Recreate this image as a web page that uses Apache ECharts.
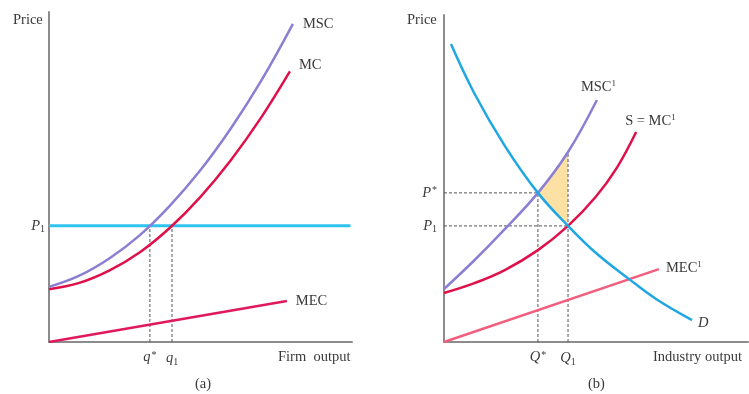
<!DOCTYPE html>
<html><head><meta charset="utf-8">
<script src="https://cdn.jsdelivr.net/npm/echarts@6/dist/echarts.min.js"></script>
<style>html,body{margin:0;padding:0;background:#fff}#c{width:749px;height:394px}</style>
</head><body><div id="c"></div>
<script>
// Panel (a): firm
const mscA = [[0,1.67],[1,2.01],[2,2.54],[3,3.24],[4,4.14],[5,5.21],[6,6.47],[7,7.91],[8.05,9.64]];
const mcA  = [[0,1.6],[1,1.79],[2,2.17],[3,2.72],[4,3.47],[5,4.40],[6,5.51],[7,6.80],[7.95,8.20]];
const mecA = [[0,0],[7.85,1.24]];
const priceA = 3.52;     // P1
const qStar = 3.33, q1 = 4.06;
const priceLineEndA = 9.95;

// Panel (b): industry
const demandB = [[0.23,9.11],[1,7.6],[2,6.0],[3.09,4.56],[4.08,3.55],[5,2.72],[6.12,1.9],[7,1.3],[8.16,0.67]];
const mscB = [[0,1.62],[1,2.5],[2,3.45],[3.09,4.56],[4.08,5.81],[5.03,7.40]];
const mcB  = [[0,1.5],[1,1.8],[2,2.2],[3.09,2.81],[4.08,3.55],[5,4.45],[5.7,5.35],[6.32,6.42]];
const mecB = [[0,0],[7.07,2.23]];
const pStar = 4.56, p1B = 3.55;
const QStar = 3.09, Q1 = 4.08, mscAtQ1 = 5.81;
const lossTriangle = [[3.09,4.56],[3.6,5.15],[4.08,5.81],[4.08,3.55],[3.6,4.03]];

const FONT = '"Liberation Serif", "DejaVu Serif", serif';
const TXT = '#3a3a3a';
const FS = 14.5;
const AX = {color:'#8c8c8c', width:2};
const rich = {
  i:{fontFamily:FONT, fontStyle:'italic', fontSize:FS, color:TXT},
  s:{fontFamily:FONT, fontSize:10, color:TXT, padding:[7,0,0,0]},
  st:{fontFamily:FONT, fontSize:10, color:TXT, padding:[0,0,5,1]},
  sup:{fontFamily:FONT, fontSize:9, color:TXT, padding:[0,0,6,0]},
  n:{fontFamily:FONT, fontSize:FS, color:TXT}
};

function axisX(idx, customs, fmt){
  return {type:'value', gridIndex:idx, min:0, max:10,
    axisLine:{show:true, lineStyle:AX}, axisTick:{show:false}, splitLine:{show:false},
    axisLabel:{customValues:customs, formatter:fmt, margin:8, rich:rich}};
}
function axisY(idx, customs, fmt, margin){
  return {type:'value', gridIndex:idx, min:0, max:10,
    axisLine:{show:true, lineStyle:AX}, axisTick:{show:false}, splitLine:{show:false},
    axisLabel:{customValues:customs, formatter:fmt, margin:margin, rich:rich}};
}
function curve(name, data, color, width, gi, label, offset, smooth){
  return {type:'line', name:name, xAxisIndex:gi, yAxisIndex:gi, data:data, smooth:smooth===undefined?0.4:smooth,
    symbol:'none', lineStyle:{color:color, width:width}, z:5, silent:true,
    endLabel: label ? {show:true, formatter:label, offset:offset, rich:rich, color:TXT, fontFamily:FONT, fontSize:FS} : {show:false}};
}
function dashed(data, gi){
  return {type:'line', xAxisIndex:gi, yAxisIndex:gi, data:data, symbol:'none', silent:true,
    lineStyle:{color:'#555', width:1, type:[3,2]}, z:3};
}

const chart = echarts.init(document.getElementById('c'));
chart.setOption({
  animation:false,
  grid:[{left:49, top:12, width:303, height:330},{left:444, top:15, width:304, height:327}],
  xAxis:[
    axisX(0,[qStar,q1], v => Math.abs(v-qStar)<0.01 ? '{i|q}{st|*}' : '{i|q}{s|1}'),
    axisX(1,[QStar,Q1], v => Math.abs(v-QStar)<0.01 ? '{i|Q}{st|*}' : '{i|Q}{s|1}')
  ],
  yAxis:[
    axisY(0,[priceA], v => '{i|P}{s|1}', 4),
    axisY(1,[pStar,p1B], v => Math.abs(v-pStar)<0.01 ? '{i|P}{st|*}' : '{i|P}{s|1}', 7)
  ],
  series:[
    dashed([[qStar,0],[qStar,priceA]],0),
    dashed([[q1,0],[q1,priceA]],0),
    curve('P1',[[0,priceA],[priceLineEndA,priceA]],'#2fc3f0',3,0,null,null,false),
    curve('MEC',mecA,'#e0195a',2.5,0,'{n|MEC}',[1,0],false),
    curve('MC',mcA,'#e0104a',2.5,0,'{n|MC}',[1,-6]),
    curve('MSC',mscA,'#8a7fd2',2.5,0,'{n|MSC}',[2,0]),
    {type:'custom', xAxisIndex:1, yAxisIndex:1, coordinateSystem:'cartesian2d', data:[0], silent:true, z:2,
      renderItem:(params, api) => ({type:'polygon', shape:{points:lossTriangle.map(p=>api.coord(p)), smooth:0},
        style:{fill:'#fde1a4'}})},
    dashed([[0,pStar],[QStar,pStar]],1),
    dashed([[0,p1B],[Q1,p1B]],1),
    dashed([[QStar,0],[QStar,pStar]],1),
    dashed([[Q1,0],[Q1,mscAtQ1]],1),
    curve('MEC1',mecB,'#f25e7e',2.5,1,'{n|MEC}{sup|1}',[-1,-1],false),
    curve('MC1',mcB,'#e0104a',2.5,1,'{n|S = MC}{sup|1}',[-19,-11]),
    curve('MSC1',mscB,'#8a7fd2',2.5,1,'{n|MSC}{sup|1}',[-24,-13]),
    curve('D',demandB,'#1ea7e2',2.5,1,'{i|D}',[-2,3])
  ],
  graphic:[
    {type:'text', left:13, top:13, style:{text:'Price', font:FS+'px '+FONT, fill:TXT}},
    {type:'text', left:278, top:350, style:{text:'Firm  output', font:FS+'px '+FONT, fill:TXT}},
    {type:'text', left:195, top:377, style:{text:'(a)', font:FS+'px '+FONT, fill:TXT}},
    {type:'text', left:407, top:13, style:{text:'Price', font:FS+'px '+FONT, fill:TXT}},
    {type:'text', left:653, top:350, style:{text:'Industry output', font:FS+'px '+FONT, fill:TXT}},
    {type:'text', left:588, top:377, style:{text:'(b)', font:FS+'px '+FONT, fill:TXT}}
  ]
});
</script></body></html>
